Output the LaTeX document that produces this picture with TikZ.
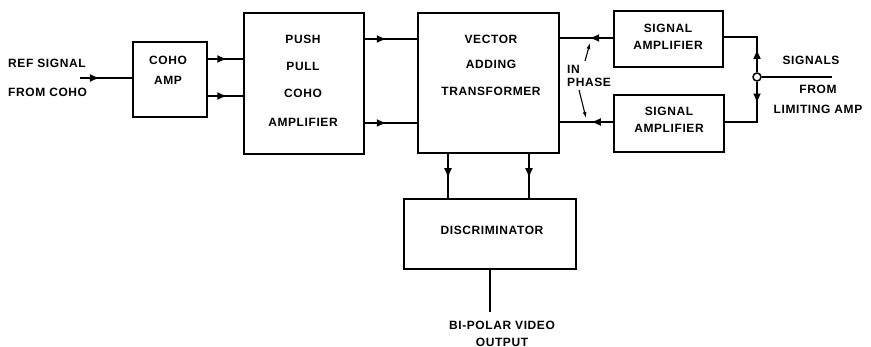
\documentclass[tikz,border=0pt]{standalone}
\usepackage{fontspec}
\setmainfont{Liberation Sans}
\newfontfamily\stencilfont{Liberation Sans}[LetterSpace=5]
\usetikzlibrary{positioning,arrows.meta,decorations.markings}
\newcommand{\lbl}{\stencilfont\bfseries\fontsize{12}{14}\selectfont}
\tikzset{
  blk/.style={rectangle,draw,line width=1.2pt,inner sep=0pt},
  txt/.style={align=center,inner sep=0pt,font=\lbl},
  sig/.style={line width=2.8pt},
  thin sig/.style={line width=1.8pt},
  midarr/.style={postaction={decorate},
    decoration={markings,mark=at position #1 with {\arrow{Latex[length=10pt,width=8pt]}}}},
  junc/.style={circle,draw,line width=1.5pt,fill=white,minimum size=8pt,inner sep=0pt},
  pointer/.style={line width=1.1pt,-{Latex[length=6pt,width=4pt]}},
}

\begin{document}
\begin{tikzpicture}[x=1pt,y=-1pt]
\useasboundingbox (0,0) rectangle (871,347);

% blocks
\node[blk,minimum width=74pt,minimum height=75pt] (cohoamp) at (170,79.5) {};
\node[blk,minimum width=120pt,minimum height=141pt] (pushpull) at (304,83.5) {};
\node[blk,minimum width=141pt,minimum height=140pt] (vat) at (488.5,83) {};
\node[blk,minimum width=109pt,minimum height=56pt] (sigamp1) at (668.5,39) {};
\node[blk,minimum width=110pt,minimum height=57pt] (sigamp2) at (669,123.5) {};
\node[blk,minimum width=172pt,minimum height=70pt] (disc) at (490,234) {};

% block texts
\node[txt] (cohoamptxt) at (168,70) {COHO\\[6pt]AMP};
\node[txt] (pushpulltxt) at (303,81) {PUSH\\[13pt]PULL\\[13pt]COHO\\[15pt]AMPLIFIER};
\node[txt] (vattxt) at (491,65) {VECTOR\\[11pt]ADDING\\[13pt]TRANSFORMER};
\node[txt] (sigamp1txt) at (668,36.5) {SIGNAL\\[3pt]AMPLIFIER};
\node[txt] (sigamp2txt) at (669,119.5) {SIGNAL\\[3pt]AMPLIFIER};
\node[txt] (disctxt) at (492,230) {DISCRIMINATOR};

% free ends
\coordinate (refin) at (80,78);
\coordinate (limin) at (832,77);
\coordinate (vidout) at (490,312);
\node[junc] (sum) at (757,77) {};

% outside texts
\node[txt,align=left,anchor=west] (reftxt) at (8,77.5) {REF SIGNAL\\[15pt]FROM COHO};
\node[txt] (sigtxt) at (811,60) {SIGNALS};
\node[txt] (limtxt) at (818,99) {FROM\\[6pt]LIMITING AMP};
\node[txt] (vidtxt) at (502,333.5) {BI-POLAR VIDEO\\[3pt]OUTPUT};
\node[txt,align=left,anchor=west] (phasetxt) at (567,76) {IN\\[-1pt]PHASE};

% connectors
\draw[thin sig,midarr=0.38] (refin) -- (cohoamp.west |- refin);
\draw[sig,midarr=0.55] (cohoamp.east |- 0,59) -- (pushpull.west |- 0,59);
\draw[sig,midarr=0.55] (cohoamp.east |- 0,96) -- (pushpull.west |- 0,96);
\draw[sig,midarr=0.42] (pushpull.east |- 0,39) -- (vat.west |- 0,39);
\draw[sig,midarr=0.42] (pushpull.east |- 0,123) -- (vat.west |- 0,123);
\draw[sig,midarr=0.45] (sigamp1.west |- 0,38) -- (vat.east |- 0,38);
\draw[sig,midarr=0.42] (sigamp2.west |- 0,122) -- (vat.east |- 0,122);
\draw[sig,midarr=0.34] (sum.north) -- (sum.center |- 0,37) -- (sigamp1.east |- 0,37);
\draw[sig,midarr=0.3] (sum.south) -- (sum.center |- 0,122) -- (sigamp2.east |- 0,122);
\draw[thin sig] (limin) -- (sum.east);
\draw[sig,midarr=0.55] (vat.south -| 448,0) -- (disc.north -| 448,0);
\draw[sig,midarr=0.55] (vat.south -| 529,0) -- (disc.north -| 529,0);
\draw[sig] (disc.south -| vidout) -- (vidout);

% in phase pointers
\draw[pointer] (phasetxt.north west) ++(18,-4) -- (590,43);
\draw[pointer] (phasetxt.south west) ++(12,3) -- (586,118);
\end{tikzpicture}
\end{document}
